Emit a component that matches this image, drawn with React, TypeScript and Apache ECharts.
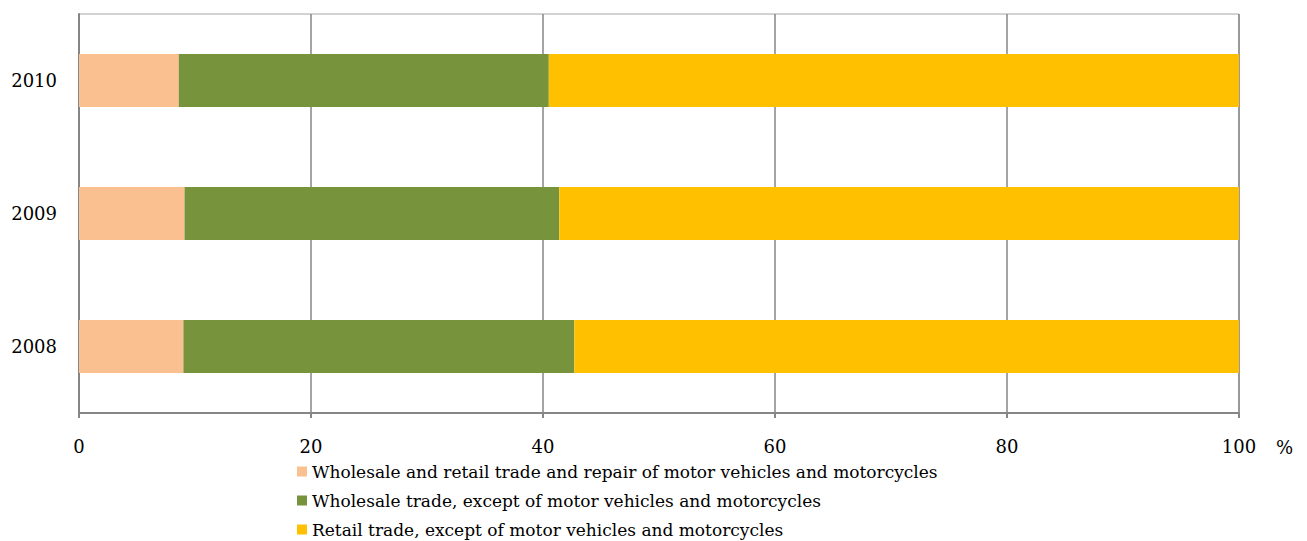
import React, { useEffect, useRef } from "react";
import * as echarts from "echarts";

const years = ["2008", "2009", "2010"];
const seriesNames = [
  "Wholesale and retail trade and repair of motor vehicles and motorcycles",
  "Wholesale trade, except of motor vehicles and motorcycles",
  "Retail trade, except of motor vehicles and motorcycles",
];
const repairValues = [9.0, 9.1, 8.6];
const wholesaleValues = [33.7, 32.3, 31.9];
const retailValues = [57.3, 58.6, 59.5];
const colors = ["#FAC090", "#77933C", "#FFC000"];

export default function App() {
  const ref = useRef<HTMLDivElement>(null);
  useEffect(() => {
    if (!ref.current) return;
    const chart = echarts.init(ref.current, null, { renderer: "svg" });
    const font = "DejaVu Serif";
    const data = [repairValues, wholesaleValues, retailValues];
    chart.setOption({
      animation: false,
      textStyle: { fontFamily: font },
      grid: {
        left: 79,
        right: 68,
        top: 14,
        bottom: 128,
        show: true,
        borderColor: "#A6A6A6",
        borderWidth: 1,
      },
      legend: {
        orient: "vertical",
        left: 292,
        top: 458,
        height: 120,
        icon: "rect",
        itemWidth: 10,
        itemHeight: 10,
        itemGap: 12,
        selectedMode: false,
        textStyle: { fontFamily: font, fontSize: 17, color: "#000" },
        data: seriesNames,
      },
      xAxis: {
        type: "value",
        min: 0,
        max: 100,
        interval: 20,
        axisLine: { show: true, lineStyle: { color: "#868686", width: 2 } },
        axisTick: { show: true, length: 5, lineStyle: { color: "#868686", width: 2 } },
        splitLine: { show: true, lineStyle: { color: "#868686", width: 1.5 } },
        axisLabel: { margin: 24, fontSize: 18, color: "#000", fontFamily: font },
      },
      yAxis: {
        type: "category",
        data: years,
        axisLine: { show: true, lineStyle: { color: "#868686", width: 2 } },
        axisTick: { show: false },
        axisLabel: { margin: 22, fontSize: 18, color: "#000", fontFamily: font },
      },
      graphic: [
        {
          type: "text",
          left: 1276,
          top: 438,
          style: { text: "%", fontSize: 18, fontFamily: font, fill: "#000" },
        },
      ],
      series: seriesNames.map((name, i) => ({
        name,
        type: "bar",
        stack: "total",
        barCategoryGap: "60%",
        itemStyle: { color: colors[i] },
        data: data[i],
      })),
    });
    return () => chart.dispose();
  }, []);
  return (
    <div
      ref={ref}
      style={{ position: "absolute", left: 0, top: 0, width: 1307, height: 541 }}
    />
  );
}
